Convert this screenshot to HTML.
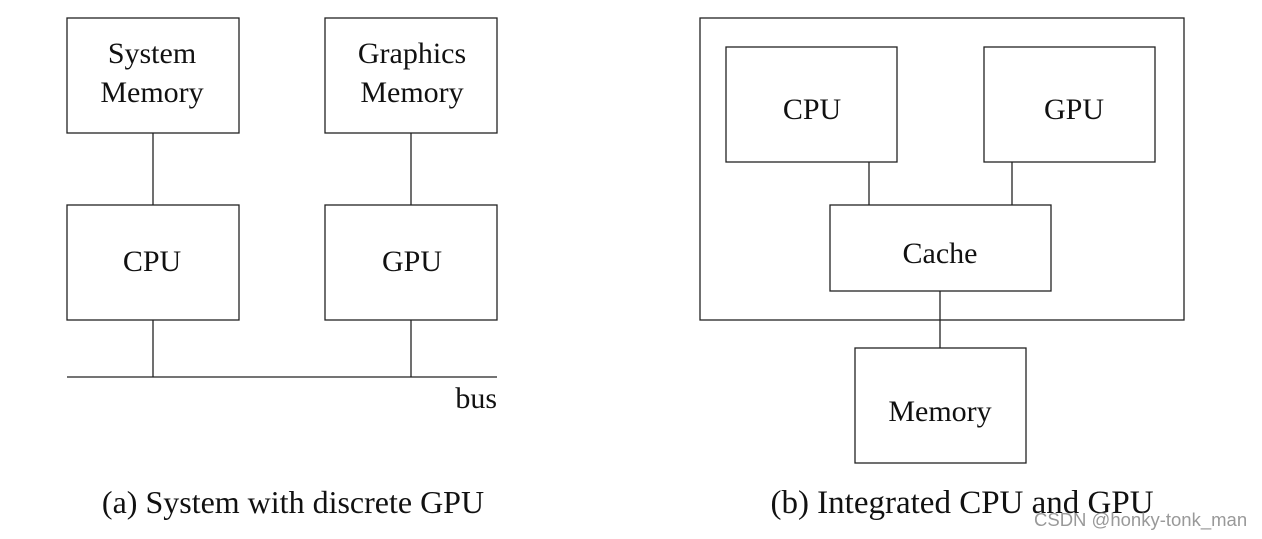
<!DOCTYPE html>
<html><head><meta charset="utf-8"><style>
html,body{margin:0;padding:0;background:#fff;}
svg{display:block;}
text{font-family:"Liberation Serif",serif;fill:#111;}
</style></head><body>
<svg width="1262" height="539" viewBox="0 0 1262 539" xmlns="http://www.w3.org/2000/svg">
<g fill="none" stroke="#222" stroke-width="1.3">
<rect x="67" y="18" width="172" height="115"/>
<rect x="325" y="18" width="172" height="115"/>
<rect x="67" y="205" width="172" height="115"/>
<rect x="325" y="205" width="172" height="115"/>
<line x1="153" y1="133" x2="153" y2="205"/>
<line x1="411" y1="133" x2="411" y2="205"/>
<line x1="153" y1="320" x2="153" y2="377"/>
<line x1="411" y1="320" x2="411" y2="377"/>
<line x1="67" y1="377" x2="497" y2="377"/>
<rect x="700" y="18" width="484" height="302"/>
<rect x="726" y="47" width="171" height="115"/>
<rect x="984" y="47" width="171" height="115"/>
<rect x="830" y="205" width="221" height="86"/>
<line x1="869" y1="162" x2="869" y2="205"/>
<line x1="1012" y1="162" x2="1012" y2="205"/>
<line x1="940" y1="291" x2="940" y2="348"/>
<rect x="855" y="348" width="171" height="115"/>
</g>
<g font-size="30" text-anchor="middle">
<text x="152" y="63">System</text>
<text x="152" y="102">Memory</text>
<text x="412" y="63">Graphics</text>
<text x="412" y="102">Memory</text>
<text x="152" y="271">CPU</text>
<text x="412" y="271">GPU</text>
<text x="812" y="119">CPU</text>
<text x="1074" y="119">GPU</text>
<text x="940" y="263">Cache</text>
<text x="940" y="421">Memory</text>
<text x="293" y="513" font-size="32">(a) System with discrete GPU</text>
<text x="962" y="513" font-size="33">(b) Integrated CPU and GPU</text>
<text x="497" y="408" text-anchor="end">bus</text>
</g>
<text x="1034" y="526" font-size="18.5" style="font-family:'Liberation Sans',sans-serif;fill:#999">CSDN @honky-tonk_man</text>
</svg>
</body></html>
